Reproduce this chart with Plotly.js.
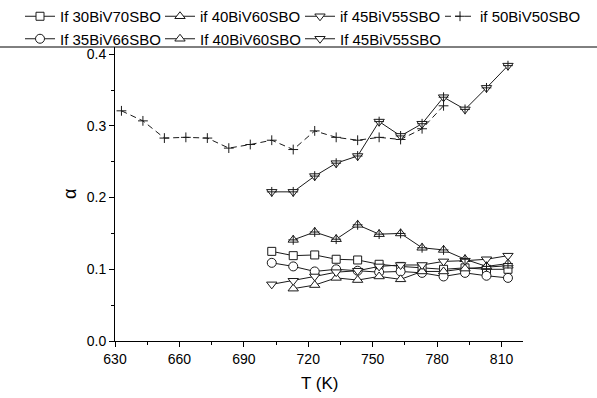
<!DOCTYPE html>
<html>
<head>
<meta charset="utf-8">
<script src="https://cdn.plot.ly/plotly-3.0.1.min.js"></script>
<style>html,body{margin:0;padding:0;background:#fff;}#chart{width:597px;height:398px;}</style>
</head>
<body>
<div id="chart"></div>
<script>
// Temperatures (K)
const T_50 = [633, 643, 653, 663, 673, 683, 693, 703, 713, 723, 733, 743, 753, 763, 773, 783];
const T_703 = [703, 713, 723, 733, 743, 753, 763, 773, 783, 793, 803, 813];
const T_713 = [713, 723, 733, 743, 753, 763, 773, 783, 793, 803, 813];

// alpha values
const a_30BiV70 = [0.125, 0.119, 0.120, 0.114, 0.113, 0.107, 0.104, 0.102, 0.100, 0.102, 0.100, 0.100];
const a_35BiV66 = [0.109, 0.104, 0.097, 0.100, 0.098, 0.096, 0.097, 0.095, 0.090, 0.095, 0.091, 0.088];
const a_40BiV60 = [0.073, 0.078, 0.088, 0.085, 0.090, 0.086, 0.097, 0.097, 0.101, 0.103, 0.105];
const a_40BiV60b = [0.141, 0.152, 0.142, 0.162, 0.149, 0.150, 0.130, 0.127, 0.114, 0.104, 0.108];
const a_45BiV55 = [0.079, 0.084, 0.090, 0.096, 0.098, 0.104, 0.106, 0.106, 0.111, 0.112, 0.114, 0.119];
const a_45BiV55b = [0.208, 0.208, 0.230, 0.248, 0.258, 0.306, 0.286, 0.303, 0.340, 0.323, 0.353, 0.384];
const a_50BiV50 = [0.321, 0.307, 0.283, 0.284, 0.283, 0.269, 0.274, 0.280, 0.267, 0.293, 0.284, 0.280, 0.284, 0.281, 0.296, 0.328];

const names = {
  s30: 'If 30BiV70SBO', s40: 'if 40BiV60SBO', s45: 'if 45BiV55SBO', s50: 'if 50BiV50SBO',
  s35: 'If 35BiV66SBO', s40b: 'If 40BiV60SBO', s45b: 'If 45BiV55SBO'
};
const xTitle = 'T (K)';
const yTitle = 'α';

const INK = '#1a1a1a';
function tr(x, y, name, symbol, size, legend, opts) {
  const t = {
    x: x, y: y, name: name, type: 'scatter', mode: 'lines+markers', legend: legend,
    line: {color: INK, width: 1},
    marker: {symbol: symbol, size: size, color: '#ffffff', line: {color: INK, width: 1}}
  };
  return Object.assign(t, opts || {});
}
function crossOverlay(x, y) {
  return {x: x, y: y, type: 'scatter', mode: 'markers', showlegend: false, hoverinfo: 'skip',
    marker: {symbol: 'cross-thin-open', size: 7, color: INK, line: {color: INK, width: 1}}};
}

const data = [
  {x: T_50, y: a_50BiV50, name: names.s50, type: 'scatter', mode: 'lines+markers', legend: 'legend4',
   line: {color: INK, width: 1, dash: '6px,4px'},
   marker: {symbol: 'cross-thin-open', size: 7, color: INK, line: {color: INK, width: 1}}},
  tr(T_703, a_30BiV70, names.s30, 'square', 8, 'legend'),
  tr(T_703, a_35BiV66, names.s35, 'circle', 9, 'legend'),
  tr(T_713, a_40BiV60, names.s40, 'triangle-up', 9, 'legend2'),
  tr(T_713, a_40BiV60b, names.s40b, 'triangle-up', 9, 'legend2'),
  tr(T_703, a_45BiV55, names.s45, 'triangle-down', 9, 'legend3'),
  tr(T_703, a_45BiV55b, names.s45b, 'triangle-down', 9, 'legend3'),
  crossOverlay(T_713, a_40BiV60b),
  crossOverlay(T_703, a_45BiV55b)
];

const FONT = 'Arial, "Liberation Sans", sans-serif';
function leg(xpx) {
  return {orientation: 'v', xref: 'container', yref: 'container', x: xpx / 597, y: 1,
    xanchor: 'left', yanchor: 'top', itemwidth: 30, tracegroupgap: 0, bgcolor: 'rgba(0,0,0,0)',
    font: {family: FONT, size: 15, color: '#000'}, traceorder: 'normal'};
}
const layout = {
  width: 597, height: 398,
  margin: {l: 115, r: 74, t: 47, b: 57, autoexpand: false},
  paper_bgcolor: '#fff', plot_bgcolor: '#fff',
  font: {family: FONT, size: 14, color: '#000'},
  showlegend: true,
  legend: leg(20), legend2: leg(160), legend3: leg(300), legend4: leg(440),
  xaxis: {
    range: [630, 820], tick0: 630, dtick: 30, ticks: 'outside', ticklen: 5, tickwidth: 1, tickcolor: '#000',
    minor: {dtick: 15, ticks: 'outside', ticklen: 3, tickcolor: '#000', tickwidth: 1},
    showline: true, linecolor: '#000', linewidth: 1, showgrid: false, zeroline: false, mirror: false,
    tickfont: {family: FONT, size: 14, color: '#000'}
  },
  yaxis: {
    range: [0, 0.41], tick0: 0, dtick: 0.1, tickformat: '.1f', ticks: 'outside', ticklen: 5, tickwidth: 1, tickcolor: '#000',
    minor: {dtick: 0.05, ticks: 'outside', ticklen: 3, tickcolor: '#000', tickwidth: 1},
    showline: true, linecolor: '#000', linewidth: 1, showgrid: false, zeroline: false, mirror: false,
    tickfont: {family: FONT, size: 14, color: '#000'}
  },
  annotations: [
    {text: xTitle, xref: 'paper', yref: 'paper', x: 0.5, y: -42 / 294, xanchor: 'center', yanchor: 'middle',
     showarrow: false, font: {family: FONT, size: 17, color: '#000'}},
    {text: yTitle, xref: 'paper', yref: 'paper', x: -45 / 408, y: 0.5, xanchor: 'center', yanchor: 'middle',
     textangle: -90, showarrow: false, font: {family: FONT, size: 18, color: '#000'}}
  ],
  shapes: [{type: 'line', xref: 'paper', yref: 'paper', x0: -0.3, x1: 1.2, y0: 1, y1: 1,
            line: {color: '#000', width: 1}}]
};

Plotly.newPlot('chart', data, layout, {staticPlot: true, displayModeBar: false});
</script>
</body>
</html>
